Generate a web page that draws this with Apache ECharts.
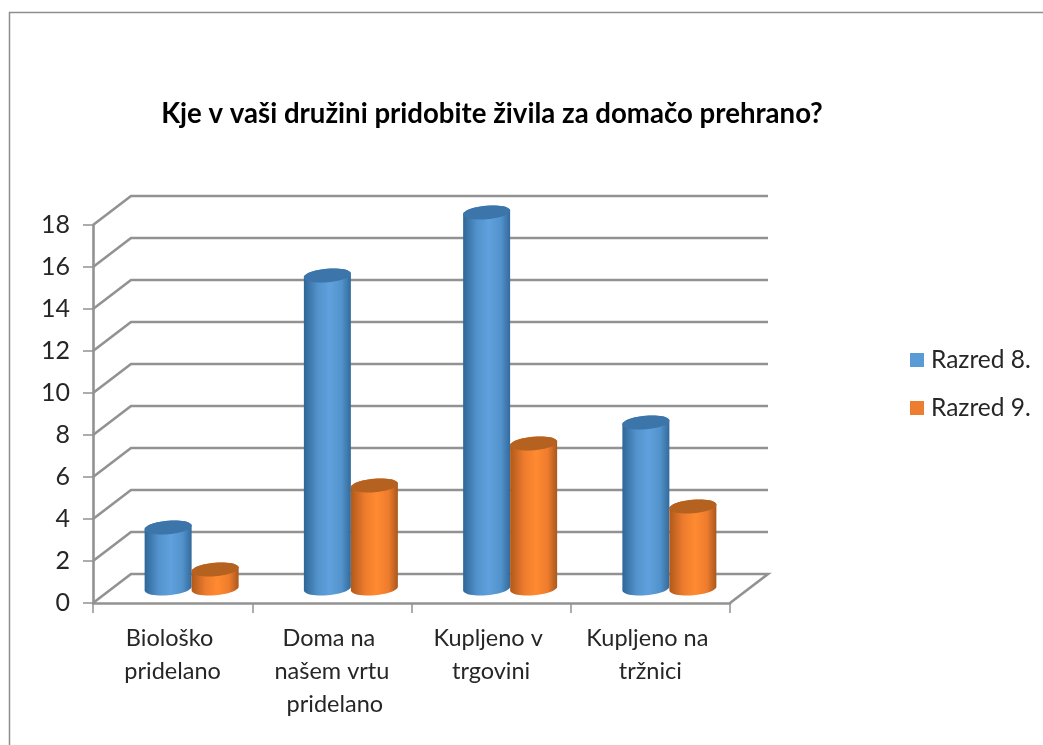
<!DOCTYPE html>
<html>
<head>
<meta charset="utf-8">
<script src="https://cdn.jsdelivr.net/npm/echarts@6/dist/echarts.min.js"></script>
<style>html,body{margin:0;padding:0;background:#fff}#c{width:1043px;height:745px}</style>
</head>
<body>
<div id="c"></div>
<script>
var categories = ['Biološko pridelano', 'Doma na našem vrtu pridelano', 'Kupljeno v trgovini', 'Kupljeno na tržnici'];
var razred8 = [3, 15, 18, 8];
var razred9 = [1, 5, 7, 4];
var yTicks = [0, 2, 4, 6, 8, 10, 12, 14, 16, 18];
var FONT = 'Lato, "Open Sans", sans-serif';
var DX = 38, DY = 29, RX = 23.5, RY = 6.8, SHEAR = -0.08, TOP_DROP = 2, LINE = '#929292';

var chart = echarts.init(document.getElementById('c'));

function ellipsePts(cx, cy, from, to, n) {
  var pts = [];
  for (var i = 0; i <= n; i++) {
    var t = from + (to - from) * i / n;
    pts.push([cx + RX * Math.cos(t), cy + RY * Math.sin(t) + SHEAR * RX * Math.cos(t)]);
  }
  return pts;
}

function cylinder(side, stops, topFill) {
  return function (params, api) {
    var top = api.coord([api.value(0), api.value(1)]);
    var base = api.coord([api.value(0), 0]);
    var cx = top[0] + DX / 2 + side * RX;
    var yTop = top[1] - DY / 2 + TOP_DROP;
    var yBase = base[1] - DY / 2;
    var body = ellipsePts(cx, yTop, Math.PI, 2 * Math.PI, 24)
      .concat(ellipsePts(cx, yBase, 0, Math.PI, 24));
    return {
      type: 'group',
      children: [
        { type: 'polygon', shape: { points: body },
          style: { fill: new echarts.graphic.LinearGradient(0, 0, 1, 0, stops) } },
        { type: 'polygon', shape: { points: ellipsePts(cx, yTop, 0, 2 * Math.PI, 48) },
          style: { fill: topFill } }
      ]
    };
  };
}

function frame(params, api) {
  var c = params.coordSys;
  var x0 = c.x, x1 = c.x + c.width;
  var y = api.coord([0, api.value(1)])[1];
  var pts = [[x0, y], [x0 + DX, y - DY], [x1 + DX, y - DY]];
  if (api.value(1) === 0) pts.push([x1, y]);
  return { type: 'polyline', shape: { points: pts },
    style: { stroke: LINE, lineWidth: 2.6, fill: null } };
}

chart.setOption({
  animation: false,
  backgroundColor: '#ffffff',
  title: {
    text: 'Kje v vaši družini pridobite živila za domačo prehrano?',
    left: 487, top: 95, textAlign: 'center',
    textStyle: { fontFamily: FONT, fontSize: 27.6, fontWeight: 'bold', color: '#000' }
  },
  legend: {
    orient: 'vertical', left: 905, top: 341, itemWidth: 14, itemHeight: 14, itemGap: 20,
    icon: 'rect',
    textStyle: { fontFamily: FONT, fontSize: 24.5, color: '#262626', lineHeight: 28, padding: [0, 0, 0, 2] },
    data: ['Razred 8.', 'Razred 9.']
  },
  grid: { left: 93, right: 313, top: 225, bottom: 142 },
  xAxis: {
    type: 'category', data: categories,
    axisLine: { lineStyle: { color: LINE, width: 2.6 } },
    axisTick: { show: true, length: 10, alignWithLabel: false, lineStyle: { color: LINE, width: 1.5 } },
    axisLabel: { fontFamily: FONT, fontSize: 23.5, color: '#262626', margin: 19, lineHeight: 33,
      width: 132, overflow: 'break', interval: 0 }
  },
  yAxis: {
    type: 'value', min: 0, max: 18, interval: 2,
    splitLine: { show: false },
    axisLine: { show: true, lineStyle: { color: LINE, width: 2.6 } },
    axisTick: { show: true, length: 10, lineStyle: { color: LINE, width: 1.5 } },
    axisLabel: { fontFamily: FONT, fontSize: 25, color: '#262626', margin: 23 }
  },
  series: [
    { type: 'custom', name: 'wall', silent: true, z: 1, renderItem: frame,
      data: yTicks.map(function (v) { return [0, v]; }) },
    { type: 'custom', name: 'Razred 8.', z: 3, renderItem: cylinder(-1, [
        { offset: 0, color: '#2f6698' }, { offset: 0.3, color: '#5393cc' },
        { offset: 0.55, color: '#5fa1de' }, { offset: 0.8, color: '#5393cc' }, { offset: 1, color: '#336a9c' }
      ], '#3c75aa'),
      itemStyle: { color: '#5b9bd5' },
      data: razred8.map(function (v, i) { return [i, v]; }) },
    { type: 'custom', name: 'Razred 9.', z: 4, renderItem: cylinder(1, [
        { offset: 0, color: '#b0591b' }, { offset: 0.3, color: '#ee7c2d' },
        { offset: 0.55, color: '#ff8a31' }, { offset: 0.8, color: '#ee7c2d' }, { offset: 1, color: '#a9581d' }
      ], '#b5611f'),
      itemStyle: { color: '#ed7d31' },
      data: razred9.map(function (v, i) { return [i, v]; }) }
  ],
  graphic: [{
    type: 'polyline', silent: true,
    shape: { points: [[9.5, 745], [9.5, 12.5], [1043, 12.5]] },
    style: { stroke: '#8e8e8e', lineWidth: 1.5, fill: null }
  }]
});
</script>
</body>
</html>
